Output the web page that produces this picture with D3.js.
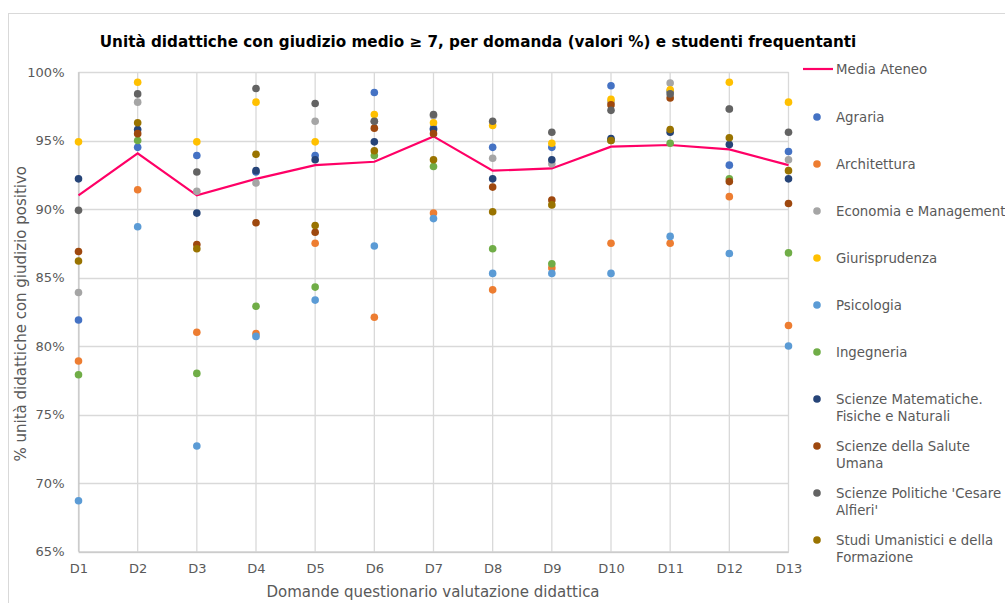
<!DOCTYPE html>
<html>
<head>
<meta charset="utf-8">
<script src="https://cdn.jsdelivr.net/npm/d3@7"></script>
<style>
  html, body { margin: 0; padding: 0; background: #fff; }
  svg { display: block; font-family: "DejaVu Sans", Verdana, sans-serif; }
</style>
</head>
<body>
<svg id="chart" width="1005" height="603"></svg>
<script>
const categories = ["D1","D2","D3","D4","D5","D6","D7","D8","D9","D10","D11","D12","D13"];
const yTicks = [0.65, 0.70, 0.75, 0.80, 0.85, 0.90, 0.95, 1.00];

const mediaAteneo = [91.0, 94.06, 91.0, 92.2, 93.2, 93.45, 95.3, 92.8, 92.96, 94.55, 94.67, 94.35, 93.2];

const seriesNames = [
  "Agraria", "Architettura", "Economia e Management", "Giurisprudenza", "Psicologia",
  "Ingegneria", "Scienze Matematiche. Fisiche e Naturali", "Scienze della Salute Umana",
  "Scienze Politiche 'Cesare Alfieri'", "Studi Umanistici e della Formazione"
];
const agraria        = [81.9, 94.5, 93.9, 92.7, 93.9, 98.5, 95.9, 94.5, 94.5, 99.0, 98.6, 93.2, 94.2];
const architettura   = [78.9, 91.4, 81.0, 80.9, 87.5, 82.1, 89.7, 84.1, 85.7, 87.5, 87.5, 90.9, 81.5];
const economia       = [83.9, 97.8, 91.3, 91.9, 96.4, 96.4, 96.8, 93.7, 93.3, 97.8, 99.2, 97.3, 93.6];
const giurisprudenza = [94.9, 99.25, 94.9, 97.8, 94.9, 96.9, 96.3, 96.1, 94.8, 98.0, 98.7, 99.25, 97.8];
const psicologia     = [68.7, 88.7, 72.7, 80.7, 83.35, 87.3, 89.3, 85.3, 85.3, 85.3, 88.0, 86.75, 80.0];
const ingegneria     = [77.9, 95.0, 78.0, 82.9, 84.3, 93.9, 93.1, 87.1, 86.0, 95.0, 94.8, 92.2, 86.8];
const scienzeMat     = [92.2, 95.8, 89.7, 92.8, 93.6, 94.9, 95.8, 92.2, 93.6, 95.15, 95.6, 94.7, 92.2];
const salute         = [86.9, 95.5, 87.4, 89.0, 88.3, 95.9, 95.5, 91.6, 90.65, 97.6, 98.1, 92.0, 90.4];
const politiche      = [89.9, 98.4, 92.7, 98.8, 97.7, 96.4, 96.9, 96.4, 95.6, 97.2, 98.4, 97.3, 95.6];
const studiUman      = [86.2, 96.3, 87.1, 94.0, 88.8, 94.25, 93.6, 89.8, 90.3, 95.0, 95.8, 95.2, 92.8];

const seriesValues = [agraria, architettura, economia, giurisprudenza, psicologia,
  ingegneria, scienzeMat, salute, politiche, studiUman];
const seriesColors = ["#4472C4", "#ED7D31", "#A5A5A5", "#FFC000", "#5B9BD5",
  "#70AD47", "#264478", "#9E480E", "#636363", "#997300"];
const legendLines = [
  ["Agraria"], ["Architettura"], ["Economia e Management"], ["Giurisprudenza"], ["Psicologia"],
  ["Ingegneria"], ["Scienze Matematiche.", "Fisiche e Naturali"], ["Scienze della Salute", "Umana"],
  ["Scienze Politiche 'Cesare", "Alfieri'"], ["Studi Umanistici e della", "Formazione"]
];

const svg = d3.select("#chart");
const pLeft = 78.5, pRight = 788.5, pTop = 72, pBottom = 551.5;

// outer chart border
svg.append("rect").attr("x", 8.5).attr("y", 13.5).attr("width", 1100).attr("height", 700)
  .attr("fill", "none").attr("stroke", "#D9D9D9").attr("stroke-width", 1);

const x = d3.scalePoint().domain(categories).range([pLeft, pRight]).padding(0);
const y = d3.scaleLinear().domain([0.65, 1.0]).range([pBottom, pTop]);

// horizontal gridlines
svg.append("g").selectAll("line").data(yTicks).join("line")
  .attr("x1", pLeft).attr("x2", pRight)
  .attr("y1", d => Math.round(y(d)) + 0.5).attr("y2", d => Math.round(y(d)) + 0.5)
  .attr("stroke", "#D9D9D9").attr("stroke-width", 1.3);
// vertical gridlines
svg.append("g").selectAll("line").data(categories).join("line")
  .attr("x1", d => x(d)).attr("x2", d => x(d))
  .attr("y1", pTop).attr("y2", pBottom)
  .attr("stroke", "#D9D9D9").attr("stroke-width", 1.3);

// y axis labels
const yAxis = d3.axisLeft(y).tickValues(yTicks).tickFormat(d3.format(".0%")).tickSize(0).tickPadding(14);
const gy = svg.append("g").attr("transform", `translate(${pLeft},0)`).call(yAxis);
gy.select(".domain").attr("stroke", "#BFBFBF");
gy.selectAll("text").attr("fill", "#595959").style("font-size", "13px")
  .style("font-family", "'DejaVu Sans', Verdana, sans-serif");

// x axis
const xAxis = d3.axisBottom(x).tickSize(0).tickPadding(12);
const gx = svg.append("g").attr("transform", `translate(0,${pBottom})`).call(xAxis);
gx.select(".domain").attr("stroke", "#BFBFBF");
gx.selectAll("text").attr("fill", "#595959").style("font-size", "13px")
  .style("font-family", "'DejaVu Sans', Verdana, sans-serif");

// media ateneo line
const line = d3.line().x((d, i) => x(categories[i])).y(d => y(d / 100));
svg.append("path").datum(mediaAteneo).attr("d", line)
  .attr("fill", "none").attr("stroke", "#FF0066").attr("stroke-width", 2.2);

// scatter points
seriesValues.forEach((vals, si) => {
  svg.append("g").selectAll("circle").data(vals).join("circle")
    .attr("cx", (d, i) => x(categories[i]))
    .attr("cy", d => y(d / 100))
    .attr("r", 3.8)
    .attr("fill", seriesColors[si]);
});

// title
svg.append("text").attr("x", 478).attr("y", 47).attr("text-anchor", "middle")
  .style("font-size", "15.2px").style("font-weight", "bold").attr("fill", "#000")
  .text("Unità didattiche con giudizio medio ≥ 7, per domanda (valori %) e studenti frequentanti");

// axis titles
svg.append("text").attr("x", 433).attr("y", 597).attr("text-anchor", "middle")
  .style("font-size", "15px").attr("fill", "#595959")
  .text("Domande questionario valutazione didattica");
svg.append("text").attr("transform", `translate(26,${(pTop + pBottom) / 2 + 2}) rotate(-90)`)
  .attr("text-anchor", "middle").style("font-size", "15px").attr("fill", "#595959")
  .text("% unità didattiche con giudizio positivo");

// legend
const lg = svg.append("g");
lg.append("line").attr("x1", 803).attr("x2", 833).attr("y1", 69).attr("y2", 69)
  .attr("stroke", "#FF0066").attr("stroke-width", 2.2);
lg.append("text").attr("x", 836).attr("y", 74).style("font-size", "13.3px").attr("fill", "#595959")
  .text("Media Ateneo");
seriesNames.forEach((name, i) => {
  const cy = 117 + i * 47;
  lg.append("circle").attr("cx", 817).attr("cy", cy).attr("r", 3.8).attr("fill", seriesColors[i]);
  const t = lg.append("text").attr("x", 836).attr("y", cy + 5).style("font-size", "13.3px").attr("fill", "#595959");
  legendLines[i].forEach((ln, j) => {
    t.append("tspan").attr("x", 836).attr("dy", j === 0 ? 0 : 16.5).text(ln);
  });
});
</script>
</body>
</html>
